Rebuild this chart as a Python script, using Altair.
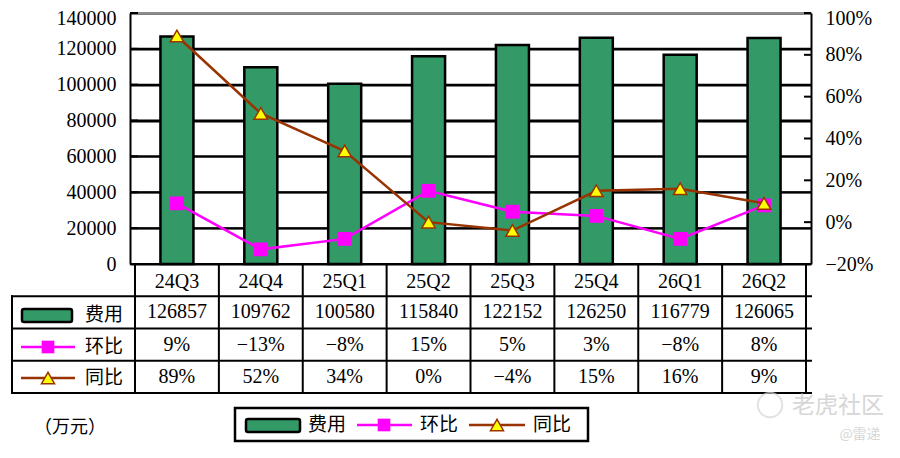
import altair as alt
import pandas as pd

# ---------------- data ----------------
quarters = ["24Q3", "24Q4", "25Q1", "25Q2", "25Q3", "25Q4", "26Q1", "26Q2"]
cost = [126857, 109762, 100580, 115840, 122152, 126250, 116779, 126065]
qoq = [0.09, -0.13, -0.08, 0.15, 0.05, 0.03, -0.08, 0.08]     # 环比
yoy = [0.89, 0.52, 0.34, 0.00, -0.04, 0.15, 0.16, 0.09]       # 同比
left_ticks = [0, 20000, 40000, 60000, 80000, 100000, 120000, 140000]
right_ticks = [-0.2, 0.0, 0.2, 0.4, 0.6, 0.8, 1.0]
series_names = ["费用", "环比", "同比"]
unit_label = "（万元）"
watermark = ["老虎社区", "@雷递"]

# ---------------- style ----------------
GREEN = "#339966"
MAGENTA = "#FF00FF"
BROWN = "#993300"
YELLOW = "#FFFF00"
NUM_FONT = "Liberation Serif"
CJK_FONT = "Noto Sans CJK SC"
WM = "#d6d6d6"

W, H = 681, 251
n = len(quarters)
ROW_H = 32.25
LABEL_COL = 118  # width of the row-label column left of the plot

df = pd.DataFrame({
    "q": quarters,
    "xc": [i + 0.5 for i in range(n)],
    "cost": cost,
    "qoq": qoq,
    "yoy": yoy,
})

xs = alt.Scale(domain=[0, n], nice=False, zero=False)
X = alt.X("xc:Q", scale=xs, axis=None)

# ---------------- left axis layer (bars) ----------------
yl = alt.Scale(domain=[0, 140000], nice=False, zero=True)
left_axis = alt.Axis(
    orient="left", values=left_ticks, format="d", grid=True,
    gridColor="black", gridWidth=2, gridOpacity=1,
    domainColor="black", domainWidth=2, ticks=False, tickSize=0,
    labelPadding=14, labelFont=NUM_FONT, labelFontSize=20, labelColor="black", title=None,
    labelOffset={"condition": {"test": "datum.value === 140000", "value": 5}, "value": 0},
)
lt_df = pd.DataFrame({"v": left_ticks})
# horizontal grid lines (drawn as rules so they sit behind the bars)
grid_lines = alt.Chart(lt_df).mark_rule(color="black", strokeWidth=2).encode(
    x=alt.value(0), x2=alt.value(W), y=alt.Y("v:Q", scale=yl, axis=left_axis),
    color=alt.condition("datum.v === 140000", alt.value("#8c8c8c"), alt.value("black")),
)
left_tick_marks = alt.Chart(lt_df).mark_rule(color="black", strokeWidth=2).encode(
    x=alt.value(0), x2=alt.value(8), y=alt.Y("v:Q", scale=yl, axis=left_axis)
)
bars = alt.Chart(df).mark_bar(
    size=33, orient="vertical", color=GREEN, stroke="black", strokeWidth=2.5
).encode(x=X, y=alt.Y("cost:Q", scale=yl, axis=left_axis))

layer_left = alt.layer(grid_lines, left_tick_marks, bars)

# ---------------- right axis layer (lines) ----------------
yr = alt.Scale(domain=[-0.2, 1.0], nice=False, zero=False)
right_axis = alt.Axis(
    orient="right", values=right_ticks, format=".0%", grid=False,
    domainColor="black", domainWidth=2, ticks=False, tickSize=0,
    labelPadding=14, labelFont=NUM_FONT, labelFontSize=20, labelColor="black", title=None,
    labelOffset={"condition": {"test": "datum.value > 0.99", "value": 5}, "value": 0},
)
qoq_line = alt.Chart(df).mark_line(color=MAGENTA, strokeWidth=2.5).encode(
    x=X, y=alt.Y("qoq:Q", scale=yr, axis=right_axis)
)
qoq_pts = alt.Chart(df).mark_point(
    shape="square", filled=True, size=190, color=MAGENTA, opacity=1
).encode(x=X, y=alt.Y("qoq:Q", scale=yr, axis=right_axis))
yoy_line = alt.Chart(df).mark_line(color=BROWN, strokeWidth=2.5).encode(
    x=X, y=alt.Y("yoy:Q", scale=yr, axis=right_axis)
)
yoy_pts = alt.Chart(df).mark_point(
    shape="triangle-up", filled=True, size=180, fill=YELLOW, stroke=BROWN,
    strokeWidth=1.5, opacity=1
).encode(x=X, y=alt.Y("yoy:Q", scale=yr, axis=right_axis))

rt_df = pd.DataFrame({"v": right_ticks})
right_tick_marks = alt.Chart(rt_df).mark_rule(color="black", strokeWidth=2).encode(
    x=alt.value(W - 7), x2=alt.value(W), y=alt.Y("v:Q", scale=yr, axis=right_axis)
)
layer_right = alt.layer(right_tick_marks, qoq_line, qoq_pts, yoy_line, yoy_pts)

# ---------------- data table below the plot ----------------
ty = alt.Scale(domain=[0, 4], range=[H, H + 4 * ROW_H], nice=False, zero=False)


def row_text(row, text_enc):
    return alt.Chart(df).mark_text(font=NUM_FONT, fontSize=20, color="black").encode(
        x=X, y=alt.YDatum(row, scale=ty, axis=None), text=text_enc
    )


t_cat = row_text(0.55, alt.Text("q:N"))
t_cost = row_text(1.5, alt.Text("cost:Q", format="d"))
t_qoq = row_text(2.5, alt.Text("qoq:Q", format=".0%"))
t_yoy = row_text(3.5, alt.Text("yoy:Q", format=".0%"))

hlines = alt.Chart(pd.DataFrame({"r": [1, 2, 3, 4]})).mark_rule(
    color="black", strokeWidth=2, strokeCap="square"
).encode(x=alt.value(-LABEL_COL), x2=alt.value(W), y=alt.Y("r:Q", scale=ty, axis=None))

vlines = alt.Chart(pd.DataFrame({"c": list(range(n + 1))})).mark_rule(
    color="black", strokeWidth=2, strokeCap="square"
).encode(
    x=alt.X("c:Q", scale=xs, axis=None),
    y=alt.YDatum(0, scale=ty, axis=None), y2=alt.Y2Datum(4),
)
left_border = alt.Chart(pd.DataFrame({"k": [0]})).mark_rule(
    color="black", strokeWidth=2, strokeCap="square"
).encode(
    x=alt.value(-LABEL_COL),
    y=alt.YDatum(1, scale=ty, axis=None), y2=alt.Y2Datum(4),
)

# ---------------- legend helpers (decorations) ----------------
one = pd.DataFrame({"k": [0]})


def rect_key(x0, x1, y0, y1):
    return alt.Chart(one).mark_rect(
        fill=GREEN, stroke="black", strokeWidth=2.5, cornerRadius=2
    ).encode(x=alt.value(x0), x2=alt.value(x1), y=alt.value(y0), y2=alt.value(y1))


def line_key(x0, x1, y, color):
    return alt.Chart(one).mark_rule(color=color, strokeWidth=2.5).encode(
        x=alt.value(x0), x2=alt.value(x1), y=alt.value(y)
    )


def square_key(x, y):
    return alt.Chart(one).mark_point(
        shape="square", filled=True, size=160, color=MAGENTA, opacity=1
    ).encode(x=alt.value(x), y=alt.value(y))


def tri_key(x, y):
    return alt.Chart(one).mark_point(
        shape="triangle-up", filled=True, size=170, fill=YELLOW, stroke=BROWN,
        strokeWidth=1.5, opacity=1
    ).encode(x=alt.value(x), y=alt.value(y))


def label(x, y, text, size=19, color="black", font=CJK_FONT):
    return alt.Chart(one).mark_text(
        text=text, font=font, fontSize=size, color=color
    ).encode(x=alt.value(x), y=alt.value(y))


# legend keys inside the table's label column
tbl_keys = [
    rect_key(-108, -58, 296, 309), label(-26, 302, series_names[0]),
    line_key(-109, -55, 334, MAGENTA), square_key(-82, 334), label(-26, 334, series_names[1]),
    line_key(-109, -55, 365, BROWN), tri_key(-82, 365), label(-26, 365, series_names[2]),
]

# bottom legend
legend_box = alt.Chart(one).mark_rect(fill="white", stroke="black", strokeWidth=2.5).encode(
    x=alt.value(105), x2=alt.value(458), y=alt.value(395), y2=alt.value(428)
)
bottom_keys = [
    legend_box,
    rect_key(116, 170, 406, 419), label(197, 412, series_names[0]),
    line_key(227, 282, 412, MAGENTA), square_key(254, 412), label(309, 412, series_names[1]),
    line_key(339, 395, 412, BROWN), tri_key(367, 412), label(422, 412, series_names[2]),
]

unit = label(-60, 415, unit_label, size=18)

# faint watermark
wm_circle = alt.Chart(one).mark_point(shape="circle", size=600, stroke=WM, strokeWidth=2, filled=False).encode(
    x=alt.value(640), y=alt.value(392)
)
wm_text1 = label(708, 393, watermark[0], size=23, color=WM)
wm_text2 = label(730, 422, watermark[1], size=14, color=WM)

layer_table = alt.layer(
    t_cat, t_cost, t_qoq, t_yoy, hlines, vlines, left_border,
    *tbl_keys, *bottom_keys, unit, wm_circle, wm_text1, wm_text2,
)

chart = alt.layer(layer_left, layer_right, layer_table).resolve_scale(
    y="independent"
).properties(
    width=W, height=H,
    autosize=alt.AutoSizeParams(type="none"),
    padding={"left": 122, "top": 5, "right": 81, "bottom": 185},
    background="white",
).configure_view(stroke=None)

chart.save("out.html", embed_options={"renderer": "svg", "actions": False})
